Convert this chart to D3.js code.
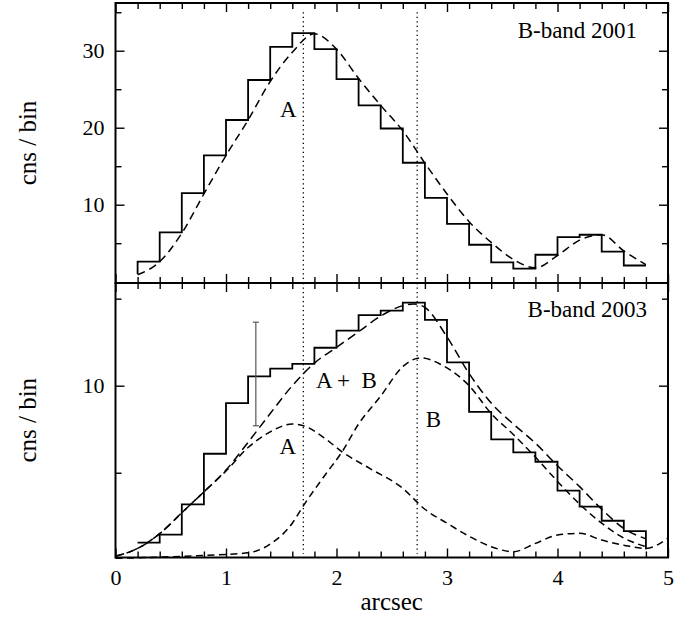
<!DOCTYPE html>
<html><head><meta charset="utf-8">
<script src="https://cdn.jsdelivr.net/npm/d3@7"></script>
<style>
body{margin:0;background:#fff}
svg{display:block}
text{font-family:"Liberation Serif","Times New Roman",serif;fill:#000}
</style>
</head><body>
<svg id="c" width="675" height="618"></svg>
<script>
// ---------- data ----------
const binStarts = [0.2,0.4,0.6,0.8,1.0,1.2,1.4,1.6,1.8,2.0,2.2,2.4,2.6,2.8,3.0,3.2,3.4,3.6,3.8,4.0,4.2,4.4,4.6];
const binEnd = 4.8;
const counts2001 = [2.6,6.4,11.5,16.4,21.0,26.2,30.5,32.3,30.2,26.3,22.9,19.9,15.45,10.9,7.5,4.8,2.5,1.7,3.5,5.8,6.1,3.9,2.1];
const counts2003 = [0.98,1.44,3.18,6.09,9.0,10.54,10.98,11.25,12.18,13.16,14.06,14.31,14.77,13.78,11.34,8.5,6.92,6.17,5.63,3.97,3.05,2.24,1.65];
const histStart2001 = 1.0;   // level where the 2001 histogram line begins
const histEnd2003 = 0.6;     // level where the 2003 histogram line ends

const modelX2001 = [0.2,0.4,0.6,0.8,1.0,1.2,1.4,1.6,1.8,2.0,2.2,2.4,2.6,2.8,3.0,3.2,3.4,3.6,3.8,4.0,4.2,4.4,4.6,4.8];
const model2001  = [0.9,2.6,6.3,11.4,16.4,21.0,26.0,29.8,32.2,30.2,26.4,22.9,19.6,15.4,11.4,7.8,5.1,2.9,1.8,3.4,5.4,6.1,4.0,2.2];

const totalX2003 = [0.0,0.2,0.4,0.6,0.8,1.0,1.2,1.4,1.6,1.8,2.0,2.2,2.4,2.6,2.7,2.8,3.0,3.2,3.4,3.6,3.8,4.0,4.2,4.4,4.6,4.8];
const total2003  = [0.2,0.65,1.5,2.7,3.9,5.15,6.75,8.4,10.0,11.3,12.2,13.1,14.0,14.6,14.7,14.5,12.8,10.7,9.0,7.8,6.7,5.4,4.2,2.9,1.8,1.2];

const compAX = [0.0,0.2,0.4,0.6,0.8,1.0,1.2,1.4,1.6,1.7,1.9,2.05,2.3,2.6,2.8,3.0,3.2,3.4,3.6,3.8,4.0,4.2,4.4,4.6,4.8,5.0];
const compA  = [0.2,0.65,1.5,2.7,3.9,5.1,6.45,7.35,7.8,7.7,6.95,6.2,5.25,4.1,2.9,2.1,1.35,0.75,0.46,0.94,1.42,1.52,1.13,0.84,0.65,1.25];

const compBX = [0.0,0.4,0.8,1.2,1.4,1.6,1.7,1.9,2.05,2.2,2.4,2.6,2.76,2.95,3.2,3.4,3.6,3.8,4.0,4.2,4.4,4.6,4.8];
const compB  = [0.08,0.15,0.25,0.4,0.9,2.1,3.1,4.9,6.2,7.8,9.4,11.1,11.6,11.2,10.0,8.4,7.2,5.9,4.5,3.2,2.1,1.25,0.75];

const markerX = [1.7, 2.73];           // dotted vertical lines
const errX = [1.27], errLo = [7.7], errHi = [13.65];

const xMajor = [0,1,2,3,4,5];
const xMinor = [0.2,0.4,0.6,0.8,1.2,1.4,1.6,1.8,2.2,2.4,2.6,2.8,3.2,3.4,3.6,3.8,4.2,4.4,4.6,4.8];
const yMajorTop = [10,20,30], yMinorTop = [5,15,25,35];
const yMajorBot = [10], yMinorBot = [5,15];

// ---------- layout ----------
const L = 115.5, R = 668;
const T1 = 3, B1 = 283, T2 = 283, B2 = 557.5;
const svg = d3.select("#c");

const x = d3.scaleLinear().domain([0,5]).range([L,R]);
const yTop = d3.scaleLinear().domain([-0.17,36.2]).range([B1,T1]);
const yBot = d3.scaleLinear().domain([0.13,15.9]).range([B2,T2]);

function stepPoints(starts, vals, startLevel, endLevel){
  const pts = [];
  if (startLevel != null) pts.push([starts[0], startLevel]);
  starts.forEach((s,i)=>pts.push([s, vals[i]]));
  pts.push([binEnd, vals[vals.length-1]]);
  if (endLevel != null) pts.push([binEnd, endLevel]);
  return pts;
}

function drawPanel(y, top, bottom, majY, minY, labelsX){
  const g = svg.append("g");
  const tickStyle = sel => sel.call(s=>s.select(".domain").remove())
    .selectAll("line").attr("stroke","#000").attr("stroke-width",1.4);
  g.append("g").attr("transform",`translate(0,${bottom})`)
    .call(d3.axisBottom(x).tickValues(xMajor).tickSizeInner(-9).tickSizeOuter(0).tickPadding(12)
      .tickFormat(labelsX ? d3.format("d") : ()=>""))
    .call(tickStyle)
    .call(s=>s.selectAll("text").attr("font-size",22).attr("font-family","Liberation Serif").attr("dy","0.72em"));
  g.append("g").attr("transform",`translate(0,${bottom})`)
    .call(d3.axisBottom(x).tickValues(xMinor).tickSizeInner(-6).tickSizeOuter(0).tickFormat(()=>""))
    .call(tickStyle);
  g.append("g").attr("transform",`translate(0,${top})`)
    .call(d3.axisTop(x).tickValues(xMajor).tickSizeInner(-9).tickSizeOuter(0).tickFormat(()=>""))
    .call(tickStyle);
  g.append("g").attr("transform",`translate(0,${top})`)
    .call(d3.axisTop(x).tickValues(xMinor).tickSizeInner(-6).tickSizeOuter(0).tickFormat(()=>""))
    .call(tickStyle);
  g.append("g").attr("transform",`translate(${L},0)`)
    .call(d3.axisLeft(y).tickValues(majY).tickSizeInner(-9).tickSizeOuter(0).tickPadding(11).tickFormat(d3.format("d")))
    .call(tickStyle)
    .call(s=>s.selectAll("text").attr("font-size",22).attr("font-family","Liberation Serif"));
  g.append("g").attr("transform",`translate(${L},0)`)
    .call(d3.axisLeft(y).tickValues(minY).tickSizeInner(-6).tickSizeOuter(0).tickFormat(()=>""))
    .call(tickStyle);
  g.append("g").attr("transform",`translate(${R},0)`)
    .call(d3.axisRight(y).tickValues(majY).tickSizeInner(-9).tickSizeOuter(0).tickFormat(()=>""))
    .call(tickStyle);
  g.append("g").attr("transform",`translate(${R},0)`)
    .call(d3.axisRight(y).tickValues(minY).tickSizeInner(-6).tickSizeOuter(0).tickFormat(()=>""))
    .call(tickStyle);
  return g;
}

const stepLine = y => d3.line().x(d=>x(d[0])).y(d=>y(d[1])).curve(d3.curveStepAfter);
const smooth = y => d3.line().x(d=>x(d[0])).y(d=>y(d[1])).curve(d3.curveMonotoneX);

// ---------- top panel ----------
drawPanel(yTop, T1, B1, yMajorTop, yMinorTop, false);

markerX.forEach(m=>{
  svg.append("line").attr("x1",x(m)).attr("x2",x(m)).attr("y1",yTop(35)).attr("y2",yTop(-0.4))
    .attr("stroke","#000").attr("stroke-width",1.3).attr("stroke-dasharray","1.3,3.2");
});

svg.append("path").attr("d", stepLine(yTop)(stepPoints(binStarts, counts2001, histStart2001, null)))
  .attr("fill","none").attr("stroke","#000").attr("stroke-width",1.8);
svg.append("path").attr("d", smooth(yTop)(modelX2001.map((v,i)=>[v,model2001[i]])))
  .attr("fill","none").attr("stroke","#000").attr("stroke-width",1.5).attr("stroke-dasharray","8,5");

svg.append("text").attr("x",x(1.564)).attr("y",yTop(21.4)).attr("text-anchor","middle").attr("font-size",23).text("A");
svg.append("text").attr("x",x(4.18)).attr("y",yTop(31.7)).attr("text-anchor","middle").attr("font-size",23).text("B-band 2001");

// ---------- bottom panel ----------
drawPanel(yBot, T2, B2, yMajorBot, yMinorBot, true);

markerX.forEach(m=>{
  svg.append("line").attr("x1",x(m)).attr("x2",x(m)).attr("y1",yBot(15.9)).attr("y2",yBot(0.35))
    .attr("stroke","#000").attr("stroke-width",1.3).attr("stroke-dasharray","1.3,3.2");
});

svg.append("path").attr("d", stepLine(yBot)(stepPoints(binStarts, counts2003, null, histEnd2003)))
  .attr("fill","none").attr("stroke","#000").attr("stroke-width",1.8);
svg.append("path").attr("d", smooth(yBot)(totalX2003.map((v,i)=>[v,total2003[i]])))
  .attr("fill","none").attr("stroke","#000").attr("stroke-width",1.5).attr("stroke-dasharray","9,5");
svg.append("path").attr("d", smooth(yBot)(compAX.map((v,i)=>[v,compA[i]])))
  .attr("fill","none").attr("stroke","#000").attr("stroke-width",1.5).attr("stroke-dasharray","7,4.5");
svg.append("path").attr("d", smooth(yBot)(compBX.map((v,i)=>[v,compB[i]])))
  .attr("fill","none").attr("stroke","#000").attr("stroke-width",1.5).attr("stroke-dasharray","7,4.5");

// error bar
errX.forEach((e,i)=>{
  const g = svg.append("g").attr("stroke","#555").attr("stroke-width",1.2);
  g.append("line").attr("x1",x(e)).attr("x2",x(e)).attr("y1",yBot(errLo[i])).attr("y2",yBot(errHi[i]));
  g.append("line").attr("x1",x(e)-3).attr("x2",x(e)+3).attr("y1",yBot(errLo[i])).attr("y2",yBot(errLo[i]));
  g.append("line").attr("x1",x(e)-3).attr("x2",x(e)+3).attr("y1",yBot(errHi[i])).attr("y2",yBot(errHi[i]));
});

svg.append("text").attr("x",x(2.09)).attr("y",yBot(9.85)).attr("text-anchor","middle").attr("font-size",23)
  .attr("xml:space","preserve").text("A +  B");
svg.append("text").attr("x",x(1.56)).attr("y",yBot(6.07)).attr("text-anchor","middle").attr("font-size",23).text("A");
svg.append("text").attr("x",x(2.876)).attr("y",yBot(7.64)).attr("text-anchor","middle").attr("font-size",23).text("B");
svg.append("text").attr("x",x(4.27)).attr("y",yBot(13.97)).attr("text-anchor","middle").attr("font-size",23).text("B-band 2003");

// frames
[[T1,B1],[T2,B2]].forEach(([t,b])=>{
  svg.append("rect").attr("x",L).attr("y",t).attr("width",R-L).attr("height",b-t)
    .attr("fill","none").attr("stroke","#000").attr("stroke-width",2);
});

// axis titles
svg.append("text").attr("transform",`translate(36,${(T1+B1)/2}) rotate(-90)`).attr("text-anchor","middle")
  .attr("font-size",25).text("cns / bin");
svg.append("text").attr("transform",`translate(36,${(T2+B2)/2}) rotate(-90)`).attr("text-anchor","middle")
  .attr("font-size",25).text("cns / bin");
svg.append("text").attr("x",x(2.5)).attr("y",610).attr("text-anchor","middle").attr("font-size",25).text("arcsec");
</script>
</body></html>
